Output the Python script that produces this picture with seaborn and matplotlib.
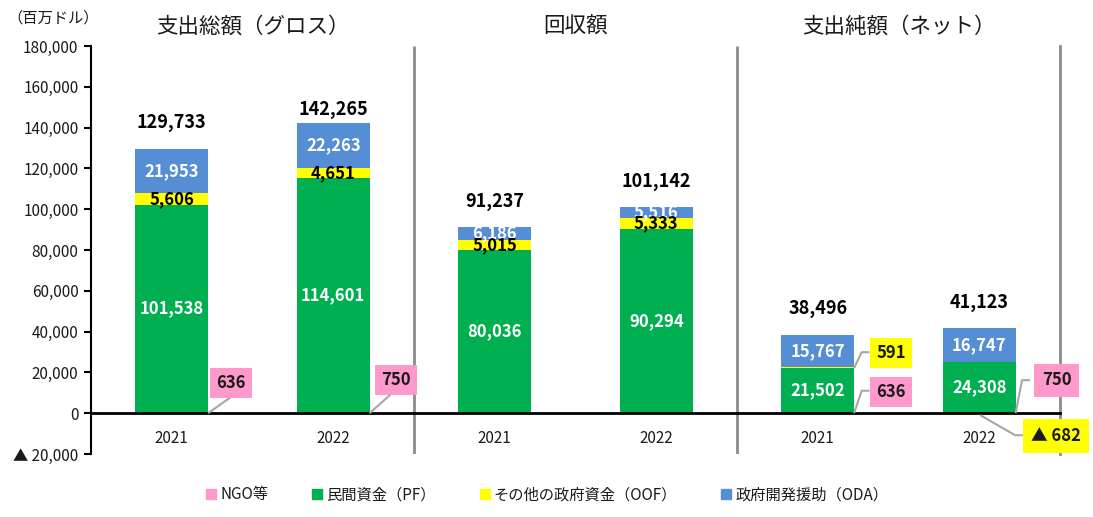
import matplotlib
matplotlib.use("Agg")
import matplotlib.pyplot as plt
import matplotlib.ticker as mticker
from matplotlib.lines import Line2D
import seaborn as sns
import pandas as pd
import numpy as np

# ---- data ----
sections = ["支出総額（グロス）", "回収額", "支出純額（ネット）"]
years = ["2021", "2022"]
series_names = ["NGO等", "民間資金（PF）", "その他の政府資金（OOF）", "政府開発援助（ODA）"]
ngo = [636, 750, 0, 0, 636, 750]
pf = [101538, 114601, 80036, 90294, 21502, 24308]
oof = [5606, 4651, 5015, 5333, 591, -682]
oda = [21953, 22263, 6186, 5516, 15767, 16747]
totals = [129733, 142265, 91237, 101142, 38496, 41123]
yticks = list(range(-20000, 180001, 20000))
unit_label = "（百万ドル）"

# ---- style ----
colors = ["#FF99CC", "#00B050", "#FFFF00", "#558ED5"]
sep_color = "#8C8C8C"
lead_color = "#A6A6A6"

sns.set_style("ticks")
plt.rcParams['font.family'] = ['Noto Sans CJK JP', 'DejaVu Sans']

bars = [f"{s}-{y}" for s in sections for y in years]
layers = [ngo, pf, oof, oda]
pos = np.array([[v if v > 0 else 0 for v in l] for l in layers])
cum = np.cumsum(pos, axis=0)
neg = np.array([v if v < 0 else 0 for v in oof])

fig = plt.figure(figsize=(10.93, 5.17), dpi=100)
ax = fig.add_axes([91 / 1093, 1 - 454 / 517, (1060 - 91) / 1093, (454 - 46) / 517])

for i in range(3, -1, -1):
    df = pd.DataFrame({"bar": bars, "value": cum[i]})
    sns.barplot(data=df, x="bar", y="value", order=bars, color=colors[i],
                width=0.45, saturation=1, linewidth=0, errorbar=None, ax=ax)
dfn = pd.DataFrame({"bar": bars, "value": neg})
sns.barplot(data=dfn, x="bar", y="value", order=bars, color=colors[2],
            width=0.45, saturation=1, linewidth=0, errorbar=None, ax=ax)

ax.set_xlim(-0.5, 5.5)
ax.set_ylim(-20000, 180000)
ax.set_yticks(yticks)
ax.yaxis.set_major_formatter(mticker.FuncFormatter(
    lambda v, p: f"▲ {abs(int(v)):,}" if v < 0 else f"{int(v):,}"))
ax.set_xticks(range(len(bars)))
ax.set_xticklabels(years * len(sections))
ax.set_xlabel("")
ax.set_ylabel("")

ax.spines['top'].set_visible(False)
ax.spines['bottom'].set_position(('data', 0))
ax.spines['bottom'].set_color("black")
ax.spines['bottom'].set_linewidth(2)
ax.spines['left'].set_color("black")
ax.spines['left'].set_linewidth(1.5)
ax.spines['right'].set_color(sep_color)
ax.spines['right'].set_linewidth(2)
ax.tick_params(axis='x', length=0, pad=12, labelsize=11, colors="#1a1a1a")
ax.tick_params(axis='y', direction='out', length=5, width=1.5, labelsize=11,
               colors="black", labelcolor="#1a1a1a", pad=4)
ax.vlines([1.5, 3.5], -20000, 180000, color=sep_color, lw=2, zorder=1)

# section titles
for k, s in enumerate(sections):
    ax.text(2 * k + 0.5, 189500, s, ha="center", va="center", fontsize=15.5,
            color="#1a1a1a", clip_on=False)
fig.text(53 / 1093, 1 - 18 / 517, unit_label, ha="center", va="center",
         fontsize=11, color="#1a1a1a")

# segment labels
lab_kw = dict(ha="center", va="center", fontsize=12, fontweight="bold")
for i in range(len(bars)):
    ax.text(i, ngo[i] + pf[i] / 2, f"{pf[i]:,}", color="white", **lab_kw)
    ax.text(i, cum[2][i] + oda[i] / 2, f"{oda[i]:,}", color="white", **lab_kw)
    if i < 4:
        ax.text(i, cum[1][i] + oof[i] / 2, f"{oof[i]:,}", color="black", **lab_kw)

# totals
total_offsets = [12600, 6600, 12600, 12300, 12600, 12600]
for i in range(len(bars)):
    ax.text(i, cum[3][i] + total_offsets[i], f"{totals[i]:,}", ha="center",
            va="center", fontsize=13, fontweight="bold", color="black")

# callouts
def fmt(v):
    return f"▲ {abs(v):,}" if v < 0 else f"{v:,}"

def callout(x0, y0, pts, tx, ty, text, fc, pad=0.35):
    xs = [x0] + [p[0] for p in pts]
    ys = [y0] + [p[1] for p in pts]
    ax.plot(xs, ys, color=lead_color, lw=1.5, zorder=3, solid_capstyle="butt")
    ax.text(tx, ty, text, ha="center", va="center", fontsize=12,
            fontweight="bold", color="#1a1a1a", zorder=4,
            bbox=dict(boxstyle=f"square,pad={pad}", fc=fc, ec="none"))

hw = 0.225
callout(0 + hw, 0, [(0.373, 8300)], 0.367, 14700, fmt(ngo[0]), colors[0])
callout(1 + hw, 0, [(1.364, 9800)], 1.389, 16400, fmt(ngo[1]), colors[0])
callout(4 + hw, ngo[4] + pf[4], [(4.272, 29900), (4.32, 29900)], 4.454, 29600,
        fmt(oof[4]), colors[2])
callout(4 + hw, 0, [(4.272, 11000), (4.32, 11000)], 4.454, 10300,
        fmt(ngo[4]), colors[0])
callout(5 + hw, 0, [(5.265, 16200), (5.314, 16200)], 5.48, 16200,
        fmt(ngo[5]), colors[0], pad=0.45)
callout(5.005, -900, [(5.222, -10800), (5.27, -10800)], 5.475, -11200,
        fmt(oof[5]), colors[2], pad=0.5)

# legend
handles = [Line2D([0], [0], marker="s", linestyle="none", markersize=7,
                  markerfacecolor=c, markeredgecolor=c) for c in colors]
fig.legend(handles, series_names, loc="center", bbox_to_anchor=(0.5, 1 - 495 / 517),
           ncol=4, frameon=False, fontsize=11, handlelength=0.8,
           handletextpad=0.2, columnspacing=2.8, labelcolor="#1a1a1a")

fig.savefig("out.png", dpi=100)
